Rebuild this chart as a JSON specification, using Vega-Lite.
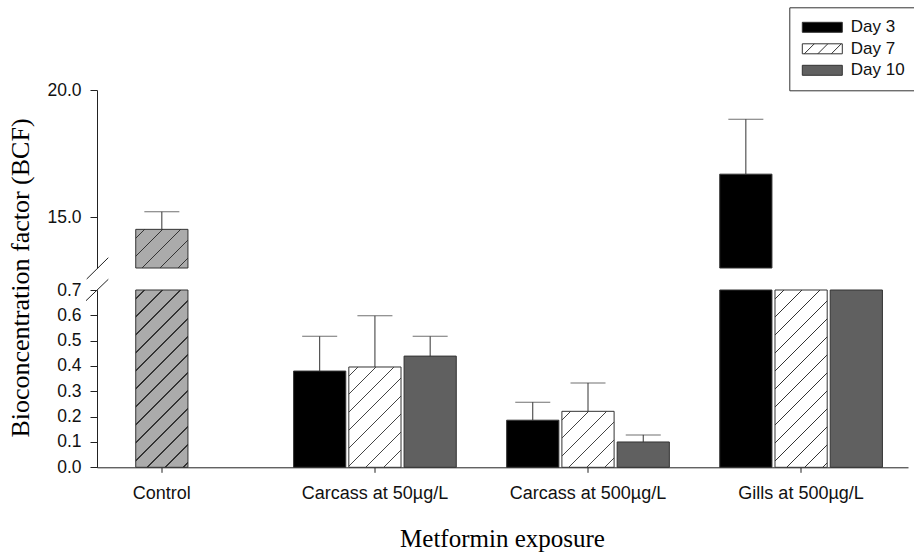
{
  "$schema": "https://vega.github.io/schema/vega-lite/v6.json",
  "width": 827.5,
  "height": 377.3,
  "autosize": {"type": "none"},
  "padding": {"left": 80.5, "top": 90, "right": 6, "bottom": 85.7},
  "background": "#ffffff",
  "config": {"view": {"stroke": null}, "axis": {"grid": false}, "font": "Liberation Sans"},
  "data": {"values": [
    {"group": "Control", "day": "Day 7", "value": 14.52, "upper": 15.21},
    {"group": "Carcass at 50µg/L", "day": "Day 3", "value": 0.380, "upper": 0.517},
    {"group": "Carcass at 50µg/L", "day": "Day 7", "value": 0.396, "upper": 0.598},
    {"group": "Carcass at 50µg/L", "day": "Day 10", "value": 0.439, "upper": 0.517},
    {"group": "Carcass at 500µg/L", "day": "Day 3", "value": 0.186, "upper": 0.257},
    {"group": "Carcass at 500µg/L", "day": "Day 7", "value": 0.221, "upper": 0.333},
    {"group": "Carcass at 500µg/L", "day": "Day 10", "value": 0.100, "upper": 0.128},
    {"group": "Gills at 500µg/L", "day": "Day 3", "value": 16.69, "upper": 18.85},
    {"group": "Gills at 500µg/L", "day": "Day 7", "value": 4.2, "upper": null},
    {"group": "Gills at 500µg/L", "day": "Day 10", "value": 3.6, "upper": null}
  ]},
  "layer": [
    {
      "encoding": {
        "x": {
          "field": "group", "type": "nominal", "sort": null,
          "scale": {"domain": ["Control", "Carcass at 50µg/L", "Carcass at 500µg/L", "Gills at 500µg/L"], "paddingInner": 0.2365, "paddingOuter": 0.06, "align": 0},
          "axis": {
            "orient": "bottom", "title": "Metformin exposure",
            "titleFont": "Liberation Serif", "titleFontSize": 25, "titleFontWeight": "normal", "titleColor": "#000",
            "titleX": 421.5, "titleY": 79.4, "titleBaseline": "alphabetic", "titleAlign": "center",
            "labelFont": "Liberation Sans", "labelFontSize": 18, "labelAngle": 0, "labelColor": "#111",
            "labelBaseline": "alphabetic", "labelPadding": 26, "tickSize": 5,
            "domainDash": [0, 16.5, 1000, 0], "domainColor": "#222", "tickColor": "#222"
          }
        },
        "xOffset": {
          "field": "day", "type": "nominal",
          "scale": {"domain": ["Day 3", "Day 7", "Day 10"], "paddingInner": 0.055, "paddingOuter": 0}
        },
        "y": {
          "field": "value", "type": "quantitative",
          "scale": {"domain": [0, 0.7], "range": [377.3, 200], "clamp": true, "zero": true, "nice": false},
          "axis": {
            "orient": "left", "offset": -16.5, "values": [0, 0.1, 0.2, 0.3, 0.4, 0.5, 0.6, 0.7], "format": ".1f",
            "tickSize": 7, "labelPadding": 9, "labelFont": "Liberation Sans", "labelFontSize": 17.5, "labelColor": "#111",
            "domainColor": "#222", "tickColor": "#222",
            "title": "Bioconcentration factor (BCF)", "titleFont": "Liberation Serif", "titleFontSize": 26,
            "titleFontWeight": "normal", "titleColor": "#000", "titleX": -64, "titleY": 187.5,
            "titleAngle": -90, "titleAlign": "center", "titleBaseline": "bottom"
          }
        }
      },
      "layer": [
        {
          "mark": {"type": "bar", "stroke": "#333", "strokeWidth": 1},
          "encoding": {
            "color": {
              "condition": {"test": "datum.group === 'Control'", "value": "#ababab"},
              "field": "day", "type": "nominal",
              "scale": {"domain": ["Day 3", "Day 7", "Day 10"], "range": ["#000000", "#ffffff", "#606060"]}
            }
          }
        },
        {
          "transform": [{"filter": "datum.group === 'Control' || (datum.group === 'Gills at 500µg/L' && datum.day === 'Day 7')"}],
          "mark": {"type": "bar", "strokeWidth": 0, "fill": {"gradient": "linear", "x1": 0, "y1": 0, "x2": 0.35758, "y2": 1.21452, "stops": [
            {"offset": 0.03526, "color": "rgba(0,0,0,0)"}, {"offset": 0.03526, "color": "#333"}, {"offset": 0.04166, "color": "#333"}, {"offset": 0.04166, "color": "rgba(0,0,0,0)"},
            {"offset": 0.11218, "color": "rgba(0,0,0,0)"}, {"offset": 0.11218, "color": "#333"}, {"offset": 0.11858, "color": "#333"}, {"offset": 0.11858, "color": "rgba(0,0,0,0)"},
            {"offset": 0.18911, "color": "rgba(0,0,0,0)"}, {"offset": 0.18911, "color": "#333"}, {"offset": 0.19551, "color": "#333"}, {"offset": 0.19551, "color": "rgba(0,0,0,0)"},
            {"offset": 0.26603, "color": "rgba(0,0,0,0)"}, {"offset": 0.26603, "color": "#333"}, {"offset": 0.27243, "color": "#333"}, {"offset": 0.27243, "color": "rgba(0,0,0,0)"},
            {"offset": 0.34295, "color": "rgba(0,0,0,0)"}, {"offset": 0.34295, "color": "#333"}, {"offset": 0.34935, "color": "#333"}, {"offset": 0.34935, "color": "rgba(0,0,0,0)"},
            {"offset": 0.41988, "color": "rgba(0,0,0,0)"}, {"offset": 0.41988, "color": "#333"}, {"offset": 0.42628, "color": "#333"}, {"offset": 0.42628, "color": "rgba(0,0,0,0)"},
            {"offset": 0.4968, "color": "rgba(0,0,0,0)"}, {"offset": 0.4968, "color": "#333"}, {"offset": 0.5032, "color": "#333"}, {"offset": 0.5032, "color": "rgba(0,0,0,0)"},
            {"offset": 0.57372, "color": "rgba(0,0,0,0)"}, {"offset": 0.57372, "color": "#333"}, {"offset": 0.58012, "color": "#333"}, {"offset": 0.58012, "color": "rgba(0,0,0,0)"},
            {"offset": 0.65065, "color": "rgba(0,0,0,0)"}, {"offset": 0.65065, "color": "#333"}, {"offset": 0.65705, "color": "#333"}, {"offset": 0.65705, "color": "rgba(0,0,0,0)"},
            {"offset": 0.72757, "color": "rgba(0,0,0,0)"}, {"offset": 0.72757, "color": "#333"}, {"offset": 0.73397, "color": "#333"}, {"offset": 0.73397, "color": "rgba(0,0,0,0)"},
            {"offset": 0.80449, "color": "rgba(0,0,0,0)"}, {"offset": 0.80449, "color": "#333"}, {"offset": 0.81089, "color": "#333"}, {"offset": 0.81089, "color": "rgba(0,0,0,0)"},
            {"offset": 0.88142, "color": "rgba(0,0,0,0)"}, {"offset": 0.88142, "color": "#333"}, {"offset": 0.88782, "color": "#333"}, {"offset": 0.88782, "color": "rgba(0,0,0,0)"},
            {"offset": 0.95834, "color": "rgba(0,0,0,0)"}, {"offset": 0.95834, "color": "#333"}, {"offset": 0.96474, "color": "#333"}, {"offset": 0.96474, "color": "rgba(0,0,0,0)"}
          ]}}
        },
        {
          "transform": [{"filter": "datum.group === 'Carcass at 50µg/L' && datum.day === 'Day 7'"}],
          "mark": {"type": "bar", "strokeWidth": 0, "fill": {"gradient": "linear", "x1": 0, "y1": 0, "x2": 0.66143, "y2": 1.2709, "stops": [
            {"offset": 0.05093, "color": "rgba(0,0,0,0)"}, {"offset": 0.05093, "color": "#444"}, {"offset": 0.06019, "color": "#444"}, {"offset": 0.06019, "color": "rgba(0,0,0,0)"},
            {"offset": 0.16204, "color": "rgba(0,0,0,0)"}, {"offset": 0.16204, "color": "#444"}, {"offset": 0.1713, "color": "#444"}, {"offset": 0.1713, "color": "rgba(0,0,0,0)"},
            {"offset": 0.27315, "color": "rgba(0,0,0,0)"}, {"offset": 0.27315, "color": "#444"}, {"offset": 0.28241, "color": "#444"}, {"offset": 0.28241, "color": "rgba(0,0,0,0)"},
            {"offset": 0.38426, "color": "rgba(0,0,0,0)"}, {"offset": 0.38426, "color": "#444"}, {"offset": 0.39352, "color": "#444"}, {"offset": 0.39352, "color": "rgba(0,0,0,0)"},
            {"offset": 0.49537, "color": "rgba(0,0,0,0)"}, {"offset": 0.49537, "color": "#444"}, {"offset": 0.50463, "color": "#444"}, {"offset": 0.50463, "color": "rgba(0,0,0,0)"},
            {"offset": 0.60648, "color": "rgba(0,0,0,0)"}, {"offset": 0.60648, "color": "#444"}, {"offset": 0.61574, "color": "#444"}, {"offset": 0.61574, "color": "rgba(0,0,0,0)"},
            {"offset": 0.71759, "color": "rgba(0,0,0,0)"}, {"offset": 0.71759, "color": "#444"}, {"offset": 0.72685, "color": "#444"}, {"offset": 0.72685, "color": "rgba(0,0,0,0)"},
            {"offset": 0.8287, "color": "rgba(0,0,0,0)"}, {"offset": 0.8287, "color": "#444"}, {"offset": 0.83796, "color": "#444"}, {"offset": 0.83796, "color": "rgba(0,0,0,0)"},
            {"offset": 0.93981, "color": "rgba(0,0,0,0)"}, {"offset": 0.93981, "color": "#444"}, {"offset": 0.94907, "color": "#444"}, {"offset": 0.94907, "color": "rgba(0,0,0,0)"}
          ]}}
        },
        {
          "transform": [{"filter": "datum.group === 'Carcass at 500µg/L' && datum.day === 'Day 7'"}],
          "mark": {"type": "bar", "strokeWidth": 0, "fill": {"gradient": "linear", "x1": 0, "y1": 0, "x2": 0.9619, "y2": 1.03193, "stops": [
            {"offset": 0.07639, "color": "rgba(0,0,0,0)"}, {"offset": 0.07639, "color": "#444"}, {"offset": 0.09027, "color": "#444"}, {"offset": 0.09027, "color": "rgba(0,0,0,0)"},
            {"offset": 0.24306, "color": "rgba(0,0,0,0)"}, {"offset": 0.24306, "color": "#444"}, {"offset": 0.25694, "color": "#444"}, {"offset": 0.25694, "color": "rgba(0,0,0,0)"},
            {"offset": 0.40973, "color": "rgba(0,0,0,0)"}, {"offset": 0.40973, "color": "#444"}, {"offset": 0.42361, "color": "#444"}, {"offset": 0.42361, "color": "rgba(0,0,0,0)"},
            {"offset": 0.57639, "color": "rgba(0,0,0,0)"}, {"offset": 0.57639, "color": "#444"}, {"offset": 0.59027, "color": "#444"}, {"offset": 0.59027, "color": "rgba(0,0,0,0)"},
            {"offset": 0.74306, "color": "rgba(0,0,0,0)"}, {"offset": 0.74306, "color": "#444"}, {"offset": 0.75694, "color": "#444"}, {"offset": 0.75694, "color": "rgba(0,0,0,0)"},
            {"offset": 0.90973, "color": "rgba(0,0,0,0)"}, {"offset": 0.90973, "color": "#444"}, {"offset": 0.92361, "color": "#444"}, {"offset": 0.92361, "color": "rgba(0,0,0,0)"}
          ]}}
        },
        {
          "transform": [{"filter": "datum.upper != null && datum.upper <= 0.7"}],
          "mark": {"type": "rule", "color": "#333", "strokeWidth": 1},
          "encoding": {"y2": {"field": "upper"}}
        },
        {
          "transform": [{"filter": "datum.upper != null && datum.upper <= 0.7"}],
          "mark": {"type": "tick", "color": "#333", "size": 35, "thickness": 1},
          "encoding": {"y": {"field": "upper", "type": "quantitative"}}
        },
        {
          "transform": [{"filter": "false"}],
          "mark": {"type": "point", "filled": true, "stroke": "#222", "strokeWidth": 1},
          "encoding": {
            "color": {
              "field": "day", "type": "nominal",
              "scale": {"domain": ["Day 3", "Day 7", "Day 10"], "range": ["#000000", "#ffffff", "#606060"]},
              "legend": {
                "title": null, "orient": "none", "legendX": 708.8, "legendY": -82.7,
                "strokeColor": "#333", "fillColor": "#ffffff", "padding": 11.5, "rowPadding": 3.5,
                "symbolSize": 100, "symbolOffset": 13, "labelOffset": 20,
                "labelFont": "Liberation Sans", "labelFontSize": 17, "labelColor": "#111",
                "symbolStrokeColor": "#222", "symbolStrokeWidth": 1, "symbolOpacity": 1
              }
            },
            "shape": {
              "field": "day", "type": "nominal",
              "scale": {"domain": ["Day 3", "Day 7", "Day 10"], "range": ["M-4,-1H4V1H-4Z", "M-4,-1H4V1H-4ZM-3.6,1L-1.6,-1M-0.9,1L1.1,-1M1.8,1L3.8,-1", "M-4,-1H4V1H-4Z"]},
              "legend": {
                "title": null, "orient": "none", "legendX": 708.8, "legendY": -82.7,
                "strokeColor": "#333", "fillColor": "#ffffff", "padding": 11.5, "rowPadding": 3.5,
                "symbolSize": 100, "symbolOffset": 13, "labelOffset": 20,
                "labelFont": "Liberation Sans", "labelFontSize": 17, "labelColor": "#111",
                "symbolStrokeColor": "#222", "symbolStrokeWidth": 1, "symbolOpacity": 1
              }
            }
          }
        }
      ]
    },
    {
      "encoding": {
        "x": {
          "field": "group", "type": "nominal", "sort": null,
          "scale": {"domain": ["Control", "Carcass at 50µg/L", "Carcass at 500µg/L", "Gills at 500µg/L"], "paddingInner": 0.2365, "paddingOuter": 0.06, "align": 0},
          "axis": {
            "orient": "bottom", "title": "Metformin exposure",
            "titleFont": "Liberation Serif", "titleFontSize": 25, "titleFontWeight": "normal", "titleColor": "#000",
            "titleX": 421.5, "titleY": 79.4, "titleBaseline": "alphabetic", "titleAlign": "center",
            "labelFont": "Liberation Sans", "labelFontSize": 18, "labelAngle": 0, "labelColor": "#111",
            "labelBaseline": "alphabetic", "labelPadding": 26, "tickSize": 5,
            "domainDash": [0, 16.5, 1000, 0], "domainColor": "#222", "tickColor": "#222"
          }
        },
        "xOffset": {
          "field": "day", "type": "nominal",
          "scale": {"domain": ["Day 3", "Day 7", "Day 10"], "paddingInner": 0.055, "paddingOuter": 0}
        },
        "y": {
          "field": "value", "type": "quantitative",
          "scale": {"domain": [13, 20], "range": [178, 0], "zero": false, "nice": false},
          "axis": {
            "orient": "left", "offset": -16.5, "values": [15, 20], "format": ".1f",
            "tickSize": 7, "labelPadding": 9, "labelFont": "Liberation Sans", "labelFontSize": 17.5, "labelColor": "#111",
            "domainColor": "#222", "tickColor": "#222", "title": null
          }
        }
      },
      "layer": [
        {
          "transform": [{"filter": "datum.value > 13"}],
          "mark": {"type": "bar", "stroke": "#333", "strokeWidth": 1},
          "encoding": {
            "y2": {"datum": 13},
            "color": {
              "condition": {"test": "datum.group === 'Control'", "value": "#ababab"},
              "field": "day", "type": "nominal",
              "scale": {"domain": ["Day 3", "Day 7", "Day 10"], "range": ["#000000", "#ffffff", "#606060"]}
            }
          }
        },
        {
          "transform": [{"filter": "datum.group === 'Control'"}],
          "mark": {"type": "bar", "strokeWidth": 0, "fill": {"gradient": "linear", "x1": 0, "y1": 0, "x2": 1.1126, "y2": 0.82486, "stops": [
            {"offset": 0.09167, "color": "rgba(0,0,0,0)"}, {"offset": 0.09167, "color": "#333"}, {"offset": 0.10833, "color": "#333"}, {"offset": 0.10833, "color": "rgba(0,0,0,0)"},
            {"offset": 0.29167, "color": "rgba(0,0,0,0)"}, {"offset": 0.29167, "color": "#333"}, {"offset": 0.30833, "color": "#333"}, {"offset": 0.30833, "color": "rgba(0,0,0,0)"},
            {"offset": 0.49167, "color": "rgba(0,0,0,0)"}, {"offset": 0.49167, "color": "#333"}, {"offset": 0.50833, "color": "#333"}, {"offset": 0.50833, "color": "rgba(0,0,0,0)"},
            {"offset": 0.69167, "color": "rgba(0,0,0,0)"}, {"offset": 0.69167, "color": "#333"}, {"offset": 0.70833, "color": "#333"}, {"offset": 0.70833, "color": "rgba(0,0,0,0)"},
            {"offset": 0.89167, "color": "rgba(0,0,0,0)"}, {"offset": 0.89167, "color": "#333"}, {"offset": 0.90833, "color": "#333"}, {"offset": 0.90833, "color": "rgba(0,0,0,0)"}
          ]}},
          "encoding": {"y2": {"datum": 13}}
        },
        {
          "transform": [{"filter": "datum.value > 13 && datum.upper != null"}],
          "mark": {"type": "rule", "color": "#333", "strokeWidth": 1},
          "encoding": {"y2": {"field": "upper"}}
        },
        {
          "transform": [{"filter": "datum.value > 13 && datum.upper != null"}],
          "mark": {"type": "tick", "color": "#333", "size": 35, "thickness": 1},
          "encoding": {"y": {"field": "upper", "type": "quantitative"}}
        }
      ]
    },
    {
      "transform": [{"filter": "datum.group === 'Control'"}],
      "mark": {"type": "point", "shape": "M6.2,-11L27.8,-32.3M5.5,10.7L27.8,-10.7", "size": 4, "filled": false, "color": "#222", "strokeWidth": 1, "opacity": 1},
      "encoding": {
        "x": {"field": "group", "type": "nominal", "bandPosition": 0},
        "y": {"datum": 0.7, "type": "quantitative", "scale": {"domain": [0, 0.7], "range": [377.3, 200], "nice": false}, "axis": null}
      }
    }
  ],
  "resolve": {"scale": {"y": "independent"}, "axis": {"y": "independent"}}
}
